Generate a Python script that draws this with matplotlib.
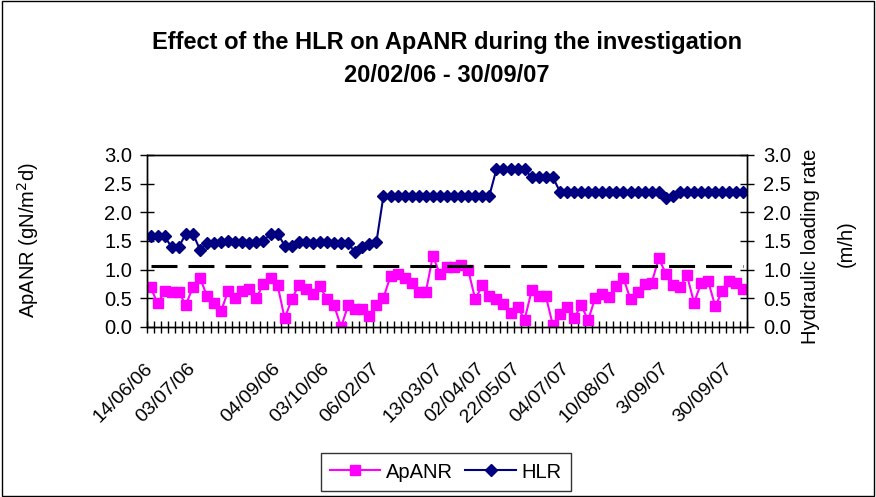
import matplotlib
matplotlib.use("Agg")
import matplotlib.pyplot as plt
from matplotlib.patches import Rectangle

plt.rcParams['font.family'] = ['Liberation Sans', 'DejaVu Sans']

# ApANR (gN/m2d), one value per sampling date (left axis)
apanr = [0.70, 0.41, 0.63, 0.61, 0.61, 0.38, 0.70, 0.86, 0.54, 0.41,
         0.28, 0.63, 0.51, 0.63, 0.67, 0.51, 0.75, 0.86, 0.73, 0.15,
         0.48, 0.73, 0.67, 0.57, 0.71, 0.48, 0.38, 0.00, 0.38, 0.32,
         0.32, 0.19, 0.38, 0.51, 0.89, 0.93, 0.86, 0.77, 0.61, 0.61,
         1.24, 0.92, 1.04, 1.04, 1.08, 1.00, 0.48, 0.73, 0.54, 0.48,
         0.40, 0.25, 0.35, 0.13, 0.64, 0.54, 0.54, 0.03, 0.22, 0.35,
         0.15, 0.38, 0.12, 0.51, 0.58, 0.52, 0.71, 0.85, 0.48, 0.61,
         0.75, 0.77, 1.20, 0.93, 0.73, 0.70, 0.90, 0.42, 0.77, 0.80,
         0.36, 0.63, 0.80, 0.77, 0.67]

# HLR (m/h), right axis
hlr = [1.58, 1.58, 1.58, 1.39, 1.39, 1.63, 1.63, 1.35, 1.46, 1.47,
       1.48, 1.50, 1.49, 1.49, 1.47, 1.48, 1.50, 1.63, 1.63, 1.42,
       1.42, 1.48, 1.48, 1.47, 1.48, 1.48, 1.47, 1.47, 1.46, 1.30,
       1.40, 1.45, 1.48, 2.29, 2.29, 2.29, 2.29, 2.29, 2.29, 2.29,
       2.29, 2.29, 2.29, 2.29, 2.29, 2.29, 2.29, 2.29, 2.29, 2.75,
       2.75, 2.75, 2.75, 2.75, 2.61, 2.61, 2.61, 2.61, 2.36, 2.36,
       2.36, 2.36, 2.36, 2.36, 2.36, 2.36, 2.36, 2.36, 2.36, 2.36,
       2.36, 2.36, 2.36, 2.25, 2.28, 2.36, 2.36, 2.36, 2.36, 2.36,
       2.36, 2.36, 2.36, 2.36, 2.36]

limit_value = 1.06

# only some dates carry a label on the category axis
label_pos = [1, 7, 19, 26, 33, 42, 48, 53, 60, 67, 74, 83]
label_txt = ["14/06/06", "03/07/06", "04/09/06", "03/10/06", "06/02/07", "13/03/07",
             "02/04/07", "22/05/07", "04/07/07", "10/08/07", "3/09/07", "30/09/07"]

n = len(apanr)
x = list(range(1, n + 1))

fig = plt.figure(figsize=(8.76, 4.97), dpi=100)
ax = fig.add_axes([147 / 876, 1 - 327 / 497, 600 / 876, 172 / 497])
ax2 = ax.twinx()

l1, = ax.plot(x, apanr, color="#FF00FF", marker="s", markersize=7, linewidth=1.5, label="ApANR")
ax.plot(x, [limit_value] * n, color="black", linewidth=2.2, dashes=(8.5, 3.6))
l2, = ax2.plot(x, hlr, color="#000080", marker="D", markersize=6.3, linewidth=1.5, label="HLR")

for a, p in ((ax, 6), (ax2, 7)):
    a.set_ylim(0, 3.0)
    a.set_yticks([0, 0.5, 1.0, 1.5, 2.0, 2.5, 3.0])
    a.set_yticklabels(["0.0", "0.5", "1.0", "1.5", "2.0", "2.5", "3.0"])
    a.tick_params(axis="y", direction="inout", length=9.5, width=1, labelsize=14.5, pad=p)
    for s in a.spines.values():
        s.set_linewidth(1)

ax.set_xlim(0.5, n + 0.5)
ax.set_xticks(label_pos)
ax.set_xticklabels(label_txt, rotation=45, ha="right", va="center", rotation_mode="anchor")
ax.set_xticks([i + 0.5 for i in range(0, n + 1)], minor=True)
ax.tick_params(axis="x", which="major", length=0, labelsize=14, pad=28)
ax.tick_params(axis="x", which="minor", direction="inout", length=9, width=1)

fig.text(447 / 876, 1 - 42 / 497, "Effect of the HLR on ApANR during the investigation",
         ha="center", va="center", fontsize=17, fontweight="bold")
fig.text(447 / 876, 1 - 75 / 497, "20/02/06 - 30/09/07",
         ha="center", va="center", fontsize=17, fontweight="bold")

fig.text(28 / 876, 1 - 240 / 497, "ApANR (gN/m$^2$d)", rotation=90,
         ha="center", va="center", fontsize=14.5)
fig.text(811 / 876, 1 - 246 / 497, "Hydraulic loading rate", rotation=90,
         ha="center", va="center", fontsize=14.5)
fig.text(846 / 876, 1 - 244 / 497, "(m/h)", rotation=90,
         ha="center", va="center", fontsize=14.5)

leg = fig.legend([l1, l2], ["ApANR", "HLR"], loc="center", bbox_to_anchor=(446 / 876, 1 - 472 / 497),
                 ncol=2, fontsize=14.5, frameon=True, fancybox=False, edgecolor="black",
                 handlelength=2.5, handletextpad=0.3, columnspacing=0.6, borderpad=0.45)
leg.get_frame().set_linewidth(1)

fig.patches.append(Rectangle((0.002, 0.002), 0.996, 0.996, transform=fig.transFigure,
                             fill=False, edgecolor="black", linewidth=1))

fig.savefig("out.png", dpi=100)
